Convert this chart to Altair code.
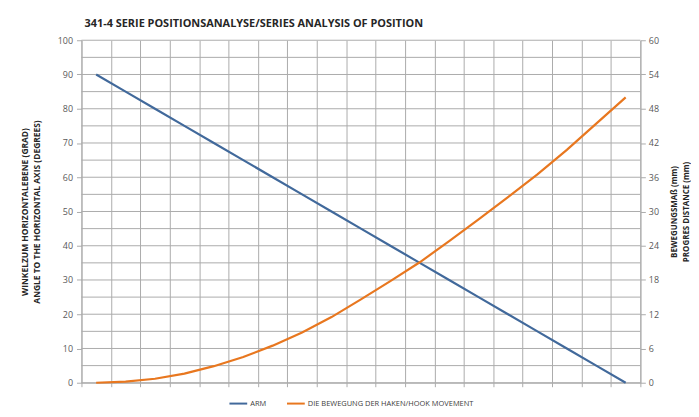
import altair as alt
import pandas as pd

# ---- data ----
positions = list(range(1, 20))
arm_deg = [90, 85, 80, 75, 70, 65, 60, 55, 50, 45, 40, 35, 30, 25, 20, 15, 10, 5, 0]
hook_mm = [0, 0.2, 0.7, 1.6, 2.9, 4.5, 6.5, 8.8, 11.5, 14.6, 17.8, 21.1, 24.8, 28.6,
           32.5, 36.5, 40.8, 45.4, 50.0]
series_names = ["ARM", "DIE BEWEGUNG  DER HAKEN/HOOK MOVEMENT"]
series_colors = ["#41699B", "#E8771F"]
left_grid = list(range(0, 101, 5))
left_major = list(range(0, 101, 10))   # right axis ticks sit on these (0..60 mm, step 6)
LEFT_MAX, RIGHT_MAX = 100, 60
x_bounds = [p - 0.5 for p in positions] + [positions[-1] + 0.5]

df = pd.DataFrame({"pos": positions, "arm": arm_deg, "hook": hook_mm})
grid_df = pd.DataFrame({"g": left_grid, "x0": x_bounds[0], "x1": x_bounds[-1]})

FONT = "Open Sans"
GRID = "#ABABAB"
LABEL = "#595959"

xscale = alt.Scale(domain=[x_bounds[0], x_bounds[-1]], nice=False, zero=False)
xaxis = alt.Axis(values=x_bounds, labels=False, title=None, grid=True,
                 gridColor=GRID, tickSize=4, tickColor=GRID, domainColor=GRID)
yscale = alt.Scale(domain=[0, LEFT_MAX], nice=False)

color = alt.Color(
    "series:N",
    scale=alt.Scale(domain=series_names, range=series_colors),
    legend=alt.Legend(
        title=None, orient="none", direction="horizontal",
        legendX=148, legendY=356,
        symbolType="stroke", symbolStrokeWidth=2, symbolSize=320,
        labelFont=FONT, labelFontSize=7.5, labelColor="#404040", labelLimit=400,
        columnPadding=16, labelOffset=2, padding=0,
    ),
)

# horizontal gridlines (every 5 units of the left scale), spanning the x scale
hgrid = alt.Chart(grid_df).mark_rule(color=GRID, strokeWidth=1).encode(
    x=alt.X("x0:Q", scale=xscale, axis=xaxis),
    x2="x1:Q",
    y=alt.Y("g:Q", scale=yscale, axis=None),
)

arm_line = alt.Chart(df).transform_calculate(series="'ARM'").mark_line(
    strokeWidth=2.2
).encode(
    x=alt.X("pos:Q", scale=xscale, axis=xaxis),
    y=alt.Y(
        "arm:Q",
        scale=yscale,
        axis=alt.Axis(
            orient="left",
            values=left_major,
            title=["WINKELZUM HORIZONTALEBENE (GRAD)", "ANGLE TO THE HORIZONTAL AXIS  (DEGREES)"],
            titleFont=FONT, titleFontSize=8.5, titleFontWeight="bold", titleColor="#262626",
            titlePadding=16, titleLineHeight=12,
            grid=False, tickSize=5, tickColor=GRID, domainColor=GRID,
            labelPadding=4,
        ),
    ),
    color=color,
)

hook_line = alt.Chart(df).transform_calculate(
    series="'DIE BEWEGUNG  DER HAKEN/HOOK MOVEMENT'",
    hook_scaled=f"datum.hook * {LEFT_MAX} / {RIGHT_MAX}",
).mark_line(strokeWidth=2.2).encode(
    x=alt.X("pos:Q", scale=xscale, axis=xaxis),
    y=alt.Y(
        "hook_scaled:Q",
        scale=yscale,
        axis=alt.Axis(
            orient="right",
            values=left_major,
            labelExpr=f"'' + round(datum.value * {RIGHT_MAX} / {LEFT_MAX})",
            title=["BEWEGUNGSMAß (mm)", "PROGRES DISTANCE (mm)"],
            titleAngle=270,
            titleFont=FONT, titleFontSize=8, titleFontWeight="bold", titleColor="#262626",
            titlePadding=8, titleLineHeight=12,
            grid=False, tickSize=5, tickColor=GRID, domainColor=GRID,
            labelPadding=3,
        ),
    ),
    color=color,
)

chart = alt.layer(hgrid, arm_line, hook_line).resolve_axis(y="independent").properties(
    width=563,
    height=345,
    padding={"left": 12, "top": 9, "right": 0, "bottom": 2},
    title=alt.TitleParams(
        "341-4 SERIE POSITIONSANALYSE/SERIES ANALYSIS OF POSITION",
        anchor="start", frame="group", dx=3, offset=7,
        font=FONT, fontSize=11, fontWeight="bold", color="#262626",
    ),
).configure_view(stroke=None).configure_axis(
    labelFont=FONT, labelFontSize=9, labelColor=LABEL
)

chart.save("out.html", embed_options={"renderer": "svg", "actions": False})
